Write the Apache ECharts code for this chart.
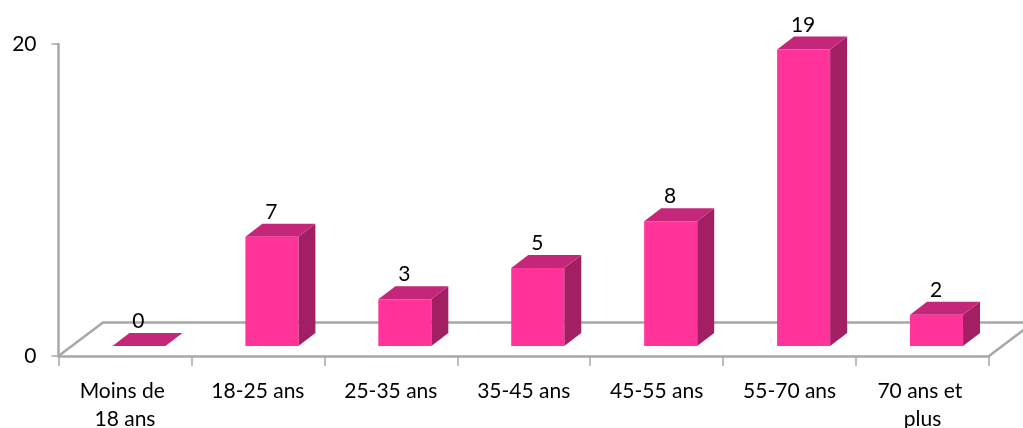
<!DOCTYPE html>
<html>
<head>
<meta charset="utf-8">
<style>html,body{margin:0;padding:0;background:#fff}#c{width:1023px;height:428px}</style>
<script src="https://cdn.jsdelivr.net/npm/echarts@6/dist/echarts.min.js"></script>
</head>
<body>
<div id="c"></div>
<script>
const categories = ["Moins de 18 ans","18-25 ans","25-35 ans","35-45 ans","45-55 ans","55-70 ans","70 ans et plus"];
const values = [0,7,3,5,8,19,2];
const FONT = 'Lato';
const AXIS = '#a8a8a8';
const FRONT = '#ff3399', TOP = '#c4267a', SIDE = '#a31f63';
const FLOOR_D = [44.5,-33.5];
const BAR_OFF = [14,-10], BAR_D = [17,-13], BAR_W = 53;

function renderFloor(params, api){
  const a = api.coord([0,0]);
  const s = api.size([1,0]);
  const left = a[0]-s[0]/2, right = left + s[0]*categories.length, y = a[1];
  const ls = {stroke:AXIS,lineWidth:2.5,fill:null};
  return {type:'group',children:[
    {type:'polyline',shape:{points:[[left,y],[left+FLOOR_D[0],y+FLOOR_D[1]],[right+FLOOR_D[0],y+FLOOR_D[1]],[right,y]]},style:ls}
  ]};
}
function renderBar(params, api){
  const c = api.coord([api.value(0),api.value(1)]);
  const x0 = c[0]+BAR_OFF[0]-BAR_W/2, x1 = x0+BAR_W;
  const yt = c[1]+BAR_OFF[1];
  const yb = api.coord([api.value(0),0])[1]+BAR_OFF[1];
  const dx = BAR_D[0], dy = BAR_D[1];
  return {type:'group',children:[
    {type:'polygon',shape:{points:[[x1,yt],[x1+dx,yt+dy],[x1+dx,yb+dy],[x1,yb]]},style:{fill:SIDE}},
    {type:'polygon',shape:{points:[[x0,yt],[x0+dx,yt+dy],[x1+dx,yt+dy],[x1,yt]]},style:{fill:TOP}},
    {type:'rect',shape:{x:x0,y:yt,width:BAR_W,height:yb-yt},style:{fill:FRONT}},
    {type:'text',x:x0+BAR_W/2-0.5,y:yt-24.5,style:{text:String(api.value(1)),font:'21px '+FONT,fill:'#000',textAlign:'center',textVerticalAlign:'middle'}}
  ]};
}
const chart = echarts.init(document.getElementById('c'),null,{renderer:'canvas'});
chart.setOption({
  animation:false,
  grid:{left:58.5,right:34,top:44,bottom:72,containLabel:false,outerBoundsMode:'none'},
  xAxis:{type:'category',data:categories,
    axisLine:{show:true,lineStyle:{color:AXIS,width:2.5}},
    axisTick:{show:true,length:10,alignWithLabel:false,lineStyle:{color:AXIS,width:1.5}},
    axisLabel:{interval:0,color:'#000',fontFamily:FONT,fontSize:21,margin:21,lineHeight:28,width:105,overflow:'break'},
    splitLine:{show:false}},
  yAxis:{type:'value',min:0,max:20,interval:20,
    axisLine:{show:true,lineStyle:{color:AXIS,width:2.5}},
    axisTick:{show:true,length:7,lineStyle:{color:AXIS,width:1.5}},
    axisLabel:{color:'#000',fontFamily:FONT,fontSize:21,margin:22,padding:[8,0,0,0]},
    splitLine:{show:false}},
  series:[
    {type:'custom',name:'floor',renderItem:renderFloor,data:[[0,0]],encode:{x:0,y:1},z:1,silent:true},
    {type:'custom',name:'values',renderItem:renderBar,data:values.map((v,i)=>[i,v]),encode:{x:0,y:1},z:2,silent:true}
  ]
});
</script>
</body>
</html>
